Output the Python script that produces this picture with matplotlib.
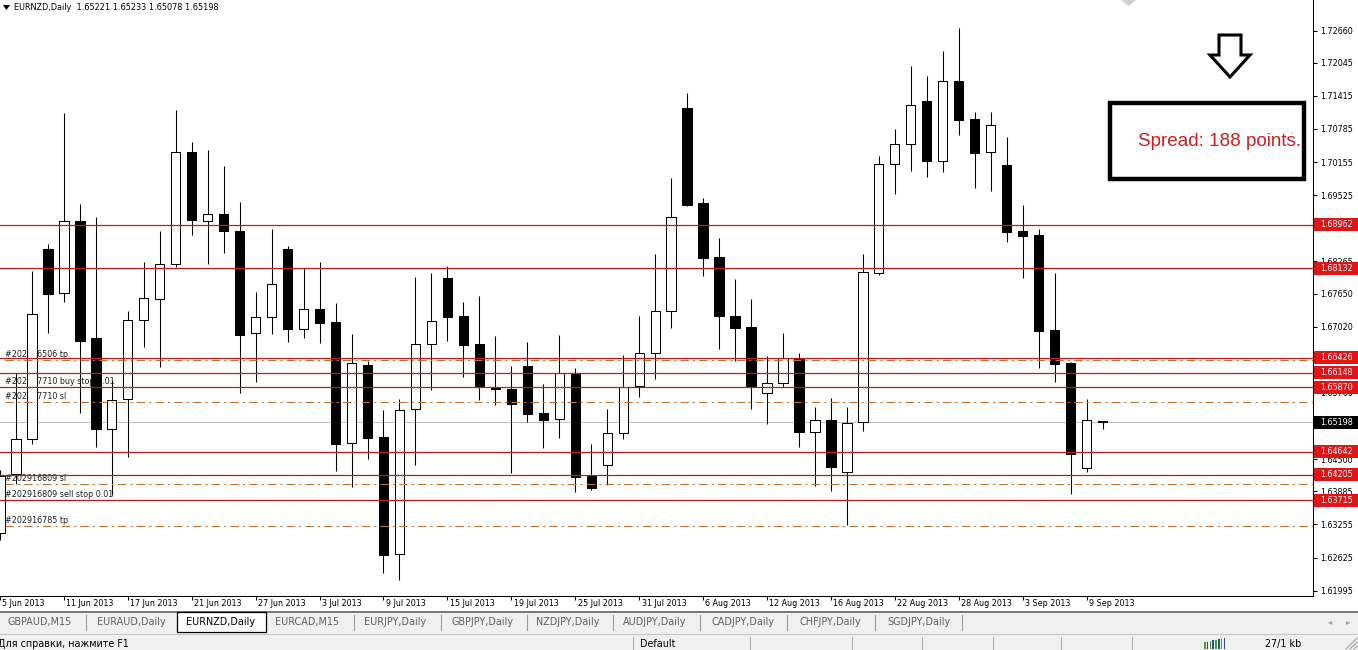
import matplotlib
matplotlib.use("Agg")
import matplotlib.pyplot as plt
from matplotlib.patches import Rectangle, Polygon
from matplotlib.lines import Line2D
from matplotlib.transforms import IdentityTransform
import numpy as np

W, H = 1358, 650
plt.rcParams['font.family'] = ['DejaVu Sans']

# EURNZD daily bars, 5 Jun 2013 .. 10 Sep 2013
opens = [1.63093, 1.64207, 1.64877, 1.68500, 1.67657, 1.69027, 1.66806, 1.65079, 1.65638, 1.67142,
         1.67554, 1.68209, 1.70347, 1.69027, 1.69161, 1.68843, 1.66895, 1.67200, 1.68500, 1.66971,
         1.67352, 1.67110, 1.64801, 1.66292, 1.64921, 1.62687, 1.65448, 1.66686, 1.67948, 1.67224,
         1.66691, 1.65878, 1.65835, 1.66272, 1.65378, 1.65258, 1.66145, 1.64178, 1.64382, 1.64991,
         1.65897, 1.66514, 1.67320, 1.71179, 1.69370, 1.68342, 1.67219, 1.67009, 1.65753, 1.65943,
         1.66430, 1.65010, 1.65239, 1.64249, 1.65201, 1.68049, 1.70113, 1.70493, 1.71318, 1.70181,
         1.71693, 1.70975, 1.70341, 1.70094, 1.68843, 1.68767, 1.66958, 1.66330, 1.64325, 1.65221]
highs = [1.64292, 1.66133, 1.68081, 1.68595, 1.71089, 1.69351, 1.69109, 1.66006, 1.67325, 1.68253,
         1.68843, 1.71146, 1.70537, 1.70385, 1.70080, 1.69395, 1.67681, 1.68881, 1.68557, 1.68144,
         1.68253, 1.67478, 1.66882, 1.66373, 1.65435, 1.65644, 1.67967, 1.68043, 1.68176, 1.67491,
         1.67605, 1.66844, 1.66272, 1.66729, 1.65930, 1.66863, 1.66240, 1.64787, 1.65454, 1.66482,
         1.67224, 1.68411, 1.69852, 1.71470, 1.69465, 1.68709, 1.67929, 1.67548, 1.66463, 1.66901,
         1.66514, 1.65486, 1.65658, 1.65486, 1.68405, 1.70271, 1.70785, 1.71984, 1.71794, 1.72270,
         1.72708, 1.71108, 1.71108, 1.70632, 1.69338, 1.68875, 1.68043, 1.66349, 1.65644, 1.65233]
lows = [1.62960, 1.64026, 1.64782, 1.66906, 1.67497, 1.65372, 1.64736, 1.63816, 1.64546, 1.66640,
        1.66248, 1.68163, 1.68772, 1.68220, 1.68430, 1.65764, 1.65974, 1.66882, 1.66735, 1.66811,
        1.66716, 1.64279, 1.63974, 1.64508, 1.62326, 1.62198, 1.64388, 1.65821, 1.66754, 1.66069,
        1.65625, 1.65536, 1.64241, 1.65212, 1.64717, 1.64907, 1.63879, 1.63912, 1.64013, 1.64888,
        1.65688, 1.66019, 1.66990, 1.69324, 1.67992, 1.66602, 1.66373, 1.65460, 1.65162, 1.65867,
        1.64736, 1.63993, 1.63898, 1.63245, 1.65041, 1.68011, 1.69553, 1.69991, 1.69877, 1.69972,
        1.70676, 1.69667, 1.69610, 1.68639, 1.67954, 1.66240, 1.65974, 1.63830, 1.64260, 1.65078]
closes = [1.64178, 1.64877, 1.67257, 1.67649, 1.69027, 1.66754, 1.65079, 1.65619, 1.67148, 1.67561,
          1.68209, 1.70347, 1.69058, 1.69161, 1.68848, 1.66868, 1.67200, 1.67828, 1.66971, 1.67352,
          1.67097, 1.64793, 1.66324, 1.64907, 1.62680, 1.65429, 1.66686, 1.67129, 1.67211, 1.66678,
          1.65892, 1.65840, 1.65555, 1.65364, 1.65250, 1.66139, 1.64165, 1.63944, 1.64991, 1.65873,
          1.66514, 1.67320, 1.69109, 1.69338, 1.68334, 1.67230, 1.67002, 1.65897, 1.65943, 1.66425,
          1.65010, 1.65239, 1.64355, 1.65187, 1.68056, 1.70113, 1.70493, 1.71236, 1.70181, 1.71693,
          1.70962, 1.70333, 1.70855, 1.68829, 1.68753, 1.66944, 1.66316, 1.64603, 1.65239, 1.65198]

date_labels = ['5 Jun 2013', '11 Jun 2013', '17 Jun 2013', '21 Jun 2013', '27 Jun 2013', '3 Jul 2013',
               '9 Jul 2013', '15 Jul 2013', '19 Jul 2013', '25 Jul 2013', '31 Jul 2013', '6 Aug 2013',
               '12 Aug 2013', '16 Aug 2013', '22 Aug 2013', '28 Aug 2013', '3 Sep 2013', '9 Sep 2013']

y_ticks = [1.72660, 1.72045, 1.71415, 1.70785, 1.70155, 1.69525, 1.68895, 1.68265, 1.67650,
           1.67020, 1.66390, 1.65760, 1.65130, 1.64500, 1.63885, 1.63255, 1.62625, 1.61995]
# these scale labels sit fully under the price boxes in the terminal
hidden_ticks = [1.68895, 1.66390, 1.65130]

red_levels = [1.68962, 1.68132, 1.66426, 1.66148, 1.65870, 1.64642, 1.64205, 1.63715]
dash_levels = [1.66381, 1.65581, 1.64020, 1.63226]
bid = 1.65198

order_texts = ['#202916506 tp', '#202917710 buy stop 0.01', '#202917710 sl',
               '#202916809 sl', '#202916809 sell stop 0.01', '#202916785 tp']
order_prices = [1.66381, 1.65870, 1.65581, 1.64020, 1.63715, 1.63226]

tabs = ['GBPAUD,M15', 'EURAUD,Daily', 'EURNZD,Daily', 'EURCAD,M15', 'EURJPY,Daily', 'GBPJPY,Daily',
        'NZDJPY,Daily', 'AUDJPY,Daily', 'CADJPY,Daily', 'CHFJPY,Daily', 'SGDJPY,Daily']
active_tab = 'EURNZD,Daily'

fig = plt.figure(figsize=(W / 100, H / 100), dpi=100)
ax = fig.add_axes([0, 1 - 596 / H, 1313 / W, 596 / H])

o = np.array(opens); c = np.array(closes)
x = np.arange(len(o))
body_col = np.where(c < o, 'black', 'white')
ax.vlines(x, lows, highs, color='black', lw=0.75, zorder=3)
ax.bar(x, np.abs(c - o), bottom=np.minimum(o, c), width=0.58, color=body_col,
       edgecolor='black', linewidth=0.75, zorder=3.1)

ax.axhline(bid, color='#c0c0c0', lw=0.75, zorder=2)
for lv in red_levels:
    ax.axhline(lv, color='#c01c1c', lw=0.9, zorder=4)
for lv in dash_levels:
    ax.axhline(lv, xmin=5 / 1313, color='#c8702a', lw=0.75, ls=(0, (8, 4, 2, 4)), zorder=4)

for t, p in zip(order_texts, order_prices):
    ax.annotate(t, xy=(5 / 1313, p), xycoords=ax.get_yaxis_transform(), xytext=(0, 4.3),
                textcoords='offset points', va='center', ha='left', fontsize=5.8,
                color='#202020', zorder=1)

ax.set_xlim(0.106, 82.17)
ax.set_ylim(1.61893, 1.73241)
for s in ['top', 'left']:
    ax.spines[s].set_visible(False)
for s in ['right', 'bottom']:
    ax.spines[s].set_linewidth(0.75)
ax.yaxis.tick_right()
ax.set_yticks(y_ticks)
ax.set_yticklabels(['' if v in hidden_ticks else f'{v:.5f}' for v in y_ticks])
ax.tick_params(axis='y', length=3, width=0.75, pad=2.5, labelsize=5.8)
lab_pos = np.arange(0, len(o), 4)
ax.set_xticks(lab_pos)
ax.set_xticklabels([])
ax.tick_params(axis='x', length=3, width=0.75)
for xp, lab in zip(lab_pos, date_labels):
    ax.text(xp + 0.15, -8 / 596, lab, transform=ax.get_xaxis_transform(), ha='left',
            va='center', fontsize=5.8)

T = IdentityTransform()


def prect(x0, y0, w, h, **kw):
    fig.add_artist(Rectangle((x0, H - y0 - h), w, h, transform=T, **kw))


def pline(xs, ys, **kw):
    fig.add_artist(Line2D(xs, [H - v for v in ys], transform=T, **kw))


def ptext(x0, y0, s, **kw):
    fig.text(x0, H - y0, s, transform=T, **kw)


# price labels on the right scale
fig.canvas.draw()
for lv in red_levels + [bid]:
    yd = ax.transData.transform((0, lv))[1]
    fc = 'black' if lv == bid else '#e01515'
    fig.add_artist(Rectangle((1314, yd - 6.5), 44, 13, transform=T, fc=fc, ec='none', zorder=5))
    fig.text(1320, yd, f'{lv:.5f}', transform=T, color='white', fontsize=5.8, va='center',
             ha='left', zorder=6)

# header
fig.add_artist(Polygon([(3, H - 5), (10, H - 5), (6.5, H - 10)], closed=True, transform=T,
                       fc='black', ec='none'))
ptext(14, 8, 'EURNZD,Daily  %.5f %.5f %.5f %.5f' % (opens[-1], highs[-1], lows[-1], closes[-1]),
      fontsize=5.9, va='center')
fig.add_artist(Polygon([(1121, H), (1136, H), (1128.5, H - 6)], closed=True, transform=T,
                       fc='#d0d0d0', ec='none'))

# spread box and arrow
prect(1110, 103, 194, 76, fc='none', ec='black', lw=3.2, zorder=5)
ptext(1138, 141, 'Spread: 188 points.', color='#cc1f1f', fontsize=13.6,
      family='Liberation Sans', va='center', zorder=6)
arrow = [(1219, 35), (1241, 35), (1241, 55), (1250, 55), (1230, 77), (1210, 55), (1219, 55)]
fig.add_artist(Polygon([(a, H - b) for a, b in arrow], closed=True, transform=T,
                       fc='white', ec='black', lw=2.2, joinstyle='miter'))

# tab bar
prect(0, 612, W, 22, fc='#f0f0f0', ec='none', zorder=1)
pline([0, W], [612, 612], color='#606060', lw=1.2, zorder=2)
tab_x = [8, 97, 186, 275, 364, 451, 536, 623, 711, 800, 887]
sep_x = [86, 354, 441, 527, 613, 700, 787, 875, 962]
prect(177, 612, 89, 20, fc='white', ec='black', lw=0.9, zorder=2)
for tx, name in zip(tab_x, tabs):
    col = 'black' if name == active_tab else '#606060'
    ptext(tx, 622, name, fontsize=6.9, color=col, va='center', zorder=3)
for sx in sep_x:
    pline([sx, sx], [615, 630], color='#9a9a9a', lw=0.8, zorder=3)
ptext(1328, 622, '\u25c2', fontsize=6, color='#a0a0a0', va='center', zorder=3)
ptext(1346, 622, '\u25b8', fontsize=6, color='#a0a0a0', va='center', zorder=3)

# status bar
prect(0, 634, W, 16, fc='#f0f0f0', ec='none', zorder=1)
pline([0, W], [634, 634], color='#c8c8c8', lw=0.8, zorder=2)
ptext(-2, 644, 'Для справки, нажмите F1', fontsize=6.9, va='center', zorder=3)
ptext(640, 644, 'Default', fontsize=6.9, va='center', zorder=3)
ptext(1265, 644, '27/1 kb', fontsize=6.9, va='center', zorder=3)
for sx in [633, 750, 852, 922, 993, 1061, 1132]:
    pline([sx, sx], [637, 650], color='#b0b0b0', lw=0.8, zorder=3)
for j in range(8):
    col = '#4a9a3a' if j % 2 == 0 else '#24507a'
    prect(1204 + j * 2.8, 638 + (7 - j) * 0.6, 1.6, 11 - (7 - j) * 0.6, fc=col, ec='none', zorder=3)
for d in [4, 8, 12]:
    pline([W - d, W - 1], [649, 650 - d], color='#a0a0a0', lw=0.8, zorder=3)

fig.savefig('out.png', dpi=100)
